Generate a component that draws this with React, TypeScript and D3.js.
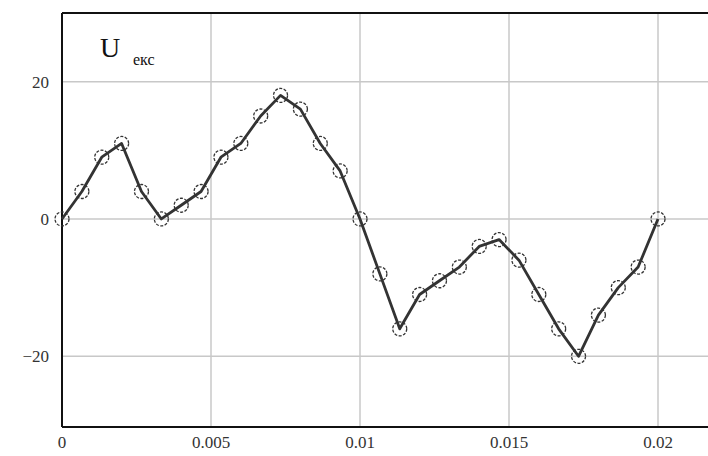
import React from 'react';
import * as d3 from 'd3';

// sample index -> time step 0.02/30
const sampleCount = 31;
const tStep = 0.02 / 30;
const uValues = [0, 4, 9, 11, 4, 0, 2, 4, 9, 11, 15, 18, 16, 11, 7, 0, -8, -16, -11, -9, -7, -4, -3, -6, -11, -16, -20, -14, -10, -7, 0];
const xTicks = [0, 0.005, 0.01, 0.015, 0.02];
const xTickLabels = ['0', '0.005', '0.01', '0.015', '0.02'];
const yTicks = [-20, 0, 20];
const yTickLabels = ['\u221220', '0', '20'];

const App = () => {
  const width = 708;
  const height = 456;
  const left = 62, right = 710, top = 13, bottom = 427;

  const x = d3.scaleLinear().domain([0, 0.02]).range([left, 658]);
  const y = d3.scaleLinear().domain([-30.3, 30]).range([bottom, top]);

  const points = uValues.slice(0, sampleCount).map((v, i) => [i * tStep, v] as [number, number]);
  const line = d3.line<[number, number]>().x(d => x(d[0])).y(d => y(d[1]));

  const font = "'Liberation Serif', 'DejaVu Serif', serif";
  const txt = { fontFamily: font };

  return (
    <svg width={width} height={height} style={{ position: 'absolute', left: 0, top: 0, background: '#fff' }}>
      {/* grid */}
      {xTicks.slice(1).map(t => (
        <line key={'gx' + t} x1={x(t)} x2={x(t)} y1={top} y2={bottom} stroke="#c8c8c8" strokeWidth={1.5} />
      ))}
      {yTicks.map(t => (
        <line key={'gy' + t} x1={left} x2={right} y1={y(t)} y2={y(t)} stroke="#c8c8c8" strokeWidth={1.5} />
      ))}

      {/* frame */}
      <line x1={left} x2={right} y1={top} y2={top} stroke="#111" strokeWidth={2} />
      <line x1={left} x2={right} y1={bottom} y2={bottom} stroke="#111" strokeWidth={2} />
      <line x1={left} x2={left} y1={top} y2={bottom} stroke="#111" strokeWidth={2} />

      {/* tick labels */}
      {xTicks.map((t, i) => (
        <text key={'xl' + t} x={x(t)} y={448} textAnchor="middle" style={txt} fontSize={17} fill="#333">
          {xTickLabels[i]}
        </text>
      ))}
      {yTicks.map((t, i) => (
        <text key={'yl' + t} x={49} y={y(t) + 6} textAnchor="end" style={txt} fontSize={17} fill="#333">
          {yTickLabels[i]}
        </text>
      ))}

      {/* series */}
      <path d={line(points) || ''} fill="none" stroke="#333" strokeWidth={2.8} strokeLinejoin="round" />
      {points.map((p, i) => (
        <circle key={'c' + i} cx={x(p[0])} cy={y(p[1])} r={7} fill="none" stroke="#333" strokeWidth={1.3} strokeDasharray="3 1.5" />
      ))}

      {/* label */}
      <text x={100} y={57} style={txt} fontSize={28} fill="#111">U</text>
      <text x={133} y={65} style={txt} fontSize={16} fill="#111">екс</text>
    </svg>
  );
};

export default App;
